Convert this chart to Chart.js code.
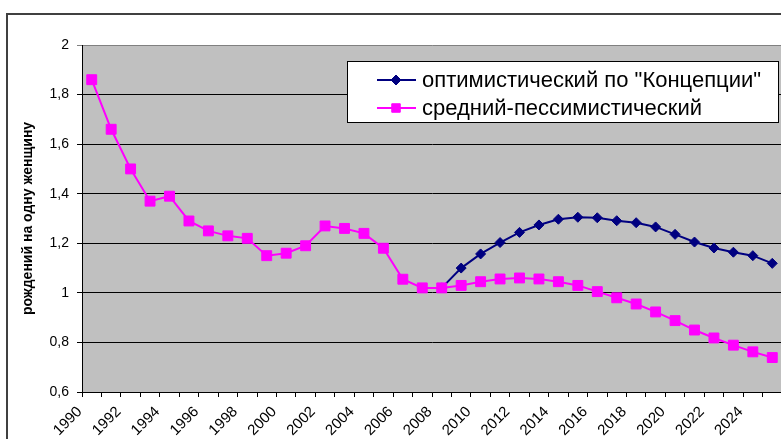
<!DOCTYPE html>
<html>
<head>
<meta charset="utf-8">
<script src="https://cdn.jsdelivr.net/npm/chart.js@4/dist/chart.umd.min.js"></script>
<style>
  html, body { margin: 0; padding: 0; overflow: hidden; background: #fff; }
  canvas { display: block; }
</style>
</head>
<body>
<canvas id="tfr" width="800" height="439"></canvas>
<script>
// years on the category axis
var years = [1990, 1991, 1992, 1993, 1994, 1995, 1996, 1997, 1998, 1999,
             2000, 2001, 2002, 2003, 2004, 2005, 2006, 2007, 2008, 2009,
             2010, 2011, 2012, 2013, 2014, 2015, 2016, 2017, 2018, 2019,
             2020, 2021, 2022, 2023, 2024, 2025];

// optimistic scenario (starts at 2008)
var optimistic = [null, null, null, null, null, null, null, null, null, null,
                  null, null, null, null, null, null, null, null, 1.02, 1.10,
                  1.157, 1.203, 1.244, 1.274, 1.297, 1.305, 1.303, 1.291, 1.283, 1.266,
                  1.236, 1.205, 1.181, 1.164, 1.15, 1.119];

// medium-pessimistic scenario
var pessimistic = [1.86, 1.66, 1.50, 1.37, 1.39, 1.29, 1.25, 1.23, 1.22, 1.15,
                   1.16, 1.19, 1.27, 1.26, 1.24, 1.18, 1.055, 1.02, 1.02, 1.03,
                   1.045, 1.056, 1.06, 1.056, 1.045, 1.03, 1.005, 0.98, 0.955, 0.923,
                   0.888, 0.85, 0.818, 0.789, 0.762, 0.739];

var seriesNames = ['оптимистический по "Концепции"', 'средний-пессимистический'];
var yTitle = 'рождений на одну женщину';

var NAVY = '#000080';
var MAGENTA = '#FF00FF';

var bgPlugin = {
    id: 'bg',
    beforeDraw: function(chart) {
        var ctx = chart.ctx, a = chart.chartArea;
        ctx.save();
        ctx.fillStyle = '#ffffff';
        ctx.fillRect(0, 0, chart.width, chart.height);
        ctx.fillStyle = '#C0C0C0';
        ctx.fillRect(a.left, a.top, a.right - a.left, a.bottom - a.top);
        ctx.restore();
    },
    afterDraw: function(chart) {
        var ctx = chart.ctx;
        ctx.save();
        // outer frame
        ctx.strokeStyle = '#404040';
        ctx.lineWidth = 2;
        ctx.beginPath();
        ctx.moveTo(7, 439);
        ctx.lineTo(7, 14);
        ctx.lineTo(chart.width, 14);
        ctx.stroke();

        // legend box
        ctx.fillStyle = '#ffffff';
        ctx.fillRect(347, 61, 432, 62);
        ctx.strokeStyle = '#000000';
        ctx.lineWidth = 1;
        ctx.strokeRect(347.5, 61.5, 431, 61);
        var rows = [80, 108];
        chart.data.datasets.forEach(function(ds, i) {
            var y = rows[i];
            ctx.strokeStyle = ds.borderColor;
            ctx.lineWidth = 2;
            ctx.beginPath();
            ctx.moveTo(377, y);
            ctx.lineTo(416, y);
            ctx.stroke();
            ctx.fillStyle = ds.backgroundColor;
            ctx.strokeStyle = ds.borderColor;
            ctx.lineWidth = 1;
            Chart.helpers.drawPoint(ctx, {
                pointStyle: ds.pointStyle,
                radius: ds.pointStyle === 'rect' ? 6 : 5,
                borderWidth: 1
            }, 396, y);
            ctx.fillStyle = '#000000';
            ctx.font = '22px "Liberation Sans", Arial, sans-serif';
            ctx.textBaseline = 'middle';
            ctx.textAlign = 'left';
            ctx.fillText(ds.label, 422, y + 1);
        });
        ctx.restore();
    }
};

var ctx = document.getElementById('tfr').getContext('2d');
var chart = new Chart(ctx, {
    type: 'line',
    data: {
        labels: years,
        datasets: [{
            label: seriesNames[0],
            data: optimistic,
            borderColor: NAVY,
            backgroundColor: NAVY,
            borderWidth: 2,
            pointStyle: 'rectRot',
            pointRadius: 5,
            pointBorderWidth: 1,
            tension: 0,
            order: 1
        }, {
            label: seriesNames[1],
            data: pessimistic,
            borderColor: MAGENTA,
            backgroundColor: MAGENTA,
            borderWidth: 2,
            pointStyle: 'rect',
            pointRadius: 7,
            pointBorderWidth: 1,
            tension: 0,
            order: 0
        }]
    },
    options: {
        responsive: false,
        animation: false,
        events: [],
        layout: { padding: { left: 0, top: 45, right: 18, bottom: 0 } },
        plugins: {
            legend: { display: false },
            tooltip: { enabled: false },
            title: { display: false }
        },
        scales: {
            x: {
                offset: true,
                grid: {
                    offset: true,
                    drawOnChartArea: false,
                    color: '#000000',
                    tickLength: 5
                },
                border: { color: '#000000', width: 1 },
                ticks: {
                    autoSkip: false,
                    minRotation: 45,
                    maxRotation: 45,
                    labelOffset: -12,
                    padding: 6,
                    color: '#000000',
                    font: { family: '"Liberation Sans", Arial, sans-serif', size: 15 },
                    callback: function(v, i) { return i % 2 === 0 ? String(years[i]) : ''; }
                },
                afterFit: function(s) { s.height = 47; }
            },
            y: {
                min: 0.6,
                max: 2,
                grid: {
                    color: function(c) { return c.tick && c.tick.value >= 1.99 ? '#808080' : '#000000'; },
                    tickLength: 5
                },
                border: { color: '#000000', width: 1 },
                ticks: {
                    stepSize: 0.2,
                    padding: 8,
                    color: '#000000',
                    font: { family: '"Liberation Sans", Arial, sans-serif', size: 14 },
                    callback: function(v) { return String(+v.toFixed(1)).replace('.', ','); }
                },
                title: {
                    display: true,
                    text: yTitle,
                    color: '#000000',
                    padding: { top: 20, bottom: 0 },
                    font: { family: '"Liberation Sans", Arial, sans-serif', size: 14, weight: 'bold' }
                },
                afterFit: function(s) { s.width = 82; }
            }
        }
    },
    plugins: [bgPlugin]
});
</script>
</body>
</html>
